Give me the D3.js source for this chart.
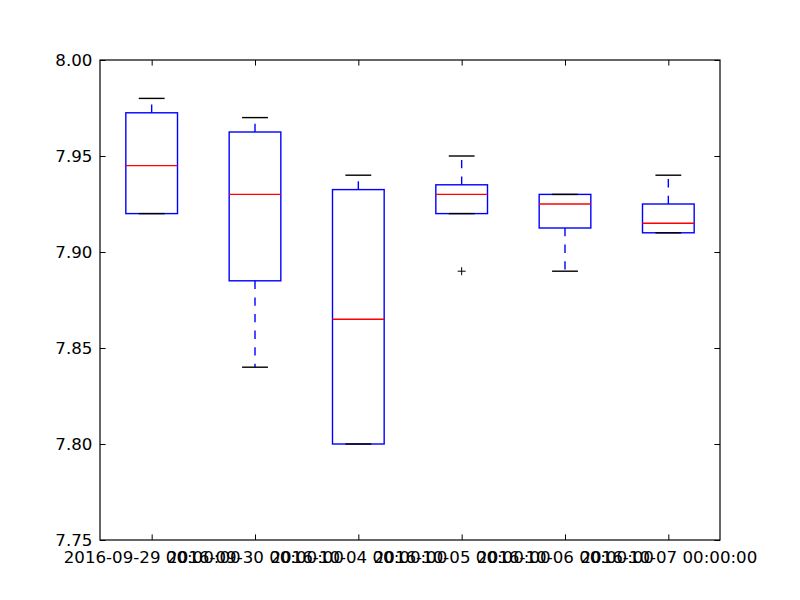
<!DOCTYPE html>
<html>
<head>
<meta charset="utf-8">
<title>boxplot</title>
<script src="https://cdn.jsdelivr.net/npm/d3@7"></script>
<style>
body { margin: 0; background: #fff; }
text { font-family: "DejaVu Sans", sans-serif; font-size: 16.67px; fill: #000; }
</style>
</head>
<body>
<script>
var categories = ["2016-09-29 00:00:00", "2016-09-30 00:00:00", "2016-10-04 00:00:00",
                  "2016-10-05 00:00:00", "2016-10-06 00:00:00", "2016-10-07 00:00:00"];
var whiskerLow  = [7.92,   7.84,   7.80,   7.92,  7.89,   7.91];
var q1          = [7.92,   7.885,  7.80,   7.92,  7.9125, 7.91];
var median      = [7.945,  7.93,   7.865,  7.93,  7.925,  7.915];
var q3          = [7.9725, 7.9625, 7.9325, 7.935, 7.93,   7.925];
var whiskerHigh = [7.98,   7.97,   7.94,   7.95,  7.93,   7.94];
var fliers      = [[], [], [], [7.89], [], []];
var yTicks = [7.75, 7.80, 7.85, 7.90, 7.95, 8.00];

var width = 800, height = 600;
// plot area (window.top is read-only, so use other names)
var pLeft = 100, pRight = 720, pTop = 60, pBottom = 540;
var tickLen = 5.6;

var svg = d3.select('body').append('svg').attr('width', width).attr('height', height);

var x = d3.scaleLinear().domain([0.5, 6.5]).range([pLeft, pRight]);
var y = d3.scaleLinear().domain([7.75, 8.00]).range([pBottom, pTop]);

var data = categories.map(function(c, i){
  return {name: c, pos: i + 1, lo: whiskerLow[i], q1: q1[i], med: median[i], q3: q3[i], hi: whiskerHigh[i], fl: fliers[i]};
});

var g = svg.append('g');

// boxes
g.selectAll('rect.box').data(data).enter().append('rect')
  .attr('x', function(d){ return x(d.pos - 0.25); })
  .attr('width', function(d){ return x(d.pos + 0.25) - x(d.pos - 0.25); })
  .attr('y', function(d){ return y(d.q3); })
  .attr('height', function(d){ return y(d.q1) - y(d.q3); })
  .attr('fill', 'none').attr('stroke', 'blue').attr('stroke-width', 1.4);

// whiskers
[['q3', 'hi'], ['q1', 'lo']].forEach(function(k){
  g.selectAll(null).data(data).enter().append('line')
    .attr('x1', function(d){ return x(d.pos); })
    .attr('x2', function(d){ return x(d.pos); })
    .attr('y1', function(d){ return y(d[k[0]]); })
    .attr('y2', function(d){ return y(d[k[1]]); })
    .attr('stroke', 'blue').attr('stroke-width', 1.4)
    .attr('stroke-dasharray', '8.3,8.3');
});

// caps
['hi', 'lo'].forEach(function(k){
  g.selectAll(null).data(data).enter().append('line')
    .attr('x1', function(d){ return x(d.pos - 0.125); })
    .attr('x2', function(d){ return x(d.pos + 0.125); })
    .attr('y1', function(d){ return y(d[k]); })
    .attr('y2', function(d){ return y(d[k]); })
    .attr('stroke', 'black').attr('stroke-width', 1.4);
});

// medians
g.selectAll('line.med').data(data).enter().append('line')
  .attr('x1', function(d){ return x(d.pos - 0.25); })
  .attr('x2', function(d){ return x(d.pos + 0.25); })
  .attr('y1', function(d){ return y(d.med); })
  .attr('y2', function(d){ return y(d.med); })
  .attr('stroke', 'red').attr('stroke-width', 1.4);

// fliers
data.forEach(function(d){
  d.fl.forEach(function(v){
    g.append('path')
      .attr('d', 'M' + (x(d.pos) - 4) + ',' + y(v) + 'h8M' + x(d.pos) + ',' + (y(v) - 4) + 'v8')
      .attr('stroke', 'black').attr('stroke-width', 1);
  });
});

// frame
svg.append('rect').attr('x', pLeft).attr('y', pTop)
  .attr('width', pRight - pLeft).attr('height', pBottom - pTop)
  .attr('fill', 'none').attr('stroke', 'black').attr('stroke-width', 1.2);

// y axis ticks (inward, both sides)
var yAxisL = d3.axisLeft(y).tickValues(yTicks).tickSizeInner(-tickLen).tickSizeOuter(0)
  .tickPadding(tickLen + 2).tickFormat(d3.format('.2f'));
var ya = svg.append('g').attr('transform', 'translate(' + pLeft + ',0)').call(yAxisL);
ya.select('.domain').remove();
ya.selectAll('text').attr('dy', '0.3em');

var yAxisR = d3.axisRight(y).tickValues(yTicks).tickSizeInner(-tickLen).tickSizeOuter(0).tickFormat('');
var yr = svg.append('g').attr('transform', 'translate(' + pRight + ',0)').call(yAxisR);
yr.select('.domain').remove();

// x axis ticks (inward, both sides)
var xAxisB = d3.axisBottom(x).tickValues(data.map(function(d){ return d.pos; }))
  .tickSizeInner(-tickLen).tickSizeOuter(0).tickPadding(tickLen + 2)
  .tickFormat(function(v){ return categories[v - 1]; });
var xb = svg.append('g').attr('transform', 'translate(0,' + pBottom + ')').call(xAxisB);
xb.select('.domain').remove();
xb.selectAll('text').attr('dy', '0.9em');

var xAxisT = d3.axisTop(x).tickValues(data.map(function(d){ return d.pos; }))
  .tickSizeInner(-tickLen).tickSizeOuter(0).tickFormat('');
var xt = svg.append('g').attr('transform', 'translate(0,' + pTop + ')').call(xAxisT);
xt.select('.domain').remove();

svg.selectAll('.tick line').attr('stroke', 'black').attr('stroke-width', 1);
svg.selectAll('g').attr('font-size', null).attr('font-family', null);
</script>
</body>
</html>
